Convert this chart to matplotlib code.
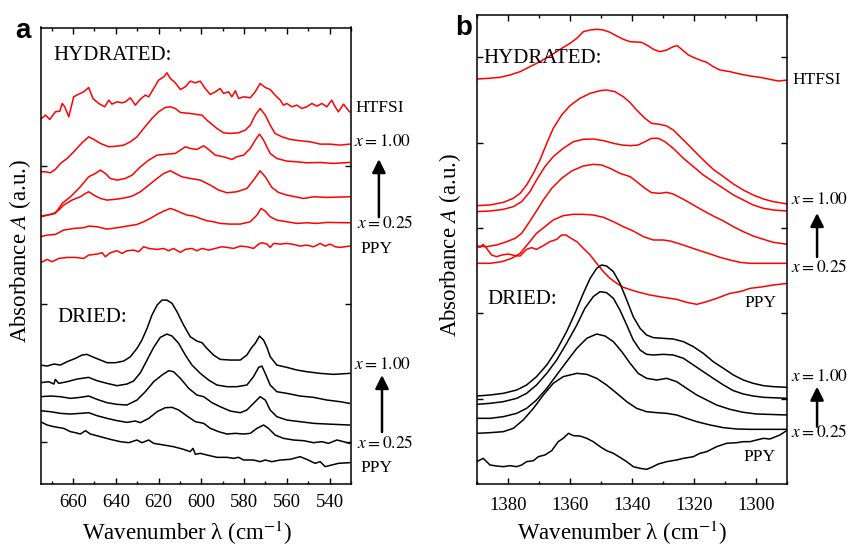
import numpy as np
import matplotlib
matplotlib.use("Agg")
import matplotlib.pyplot as plt
from matplotlib.ticker import MultipleLocator, FixedLocator

plt.rcParams['font.family'] = ['Liberation Serif', 'DejaVu Serif']
plt.rcParams['mathtext.fontset'] = 'stix'

RED = '#ff0000'
BLACK = '#000000'

# ----------------------------------------------------------------------
# Panel a: 675-530 cm-1, (wavenumber, absorbance a.u.)
# ----------------------------------------------------------------------
a_hyd_htfsi = [
    (675.3, 10.94), (672.9, 11.07), (670.9, 10.94), (668.3, 11.17), (666.2, 11.19),
    (665.1, 11.42), (663.9, 11.32), (662.0, 11.02), (659.7, 11.62), (657.4, 11.70),
    (655.0, 11.77), (652.7, 11.90), (650.7, 11.57), (648.0, 11.42), (645.2, 11.32),
    (643.3, 11.52), (641.8, 11.40), (639.4, 11.47), (637.1, 11.44), (635.5, 11.47),
    (633.2, 11.59), (630.9, 11.37), (628.5, 11.55), (626.2, 11.67), (624.6, 11.62),
    (622.3, 11.87), (620.0, 12.12), (617.6, 12.22), (616.1, 12.34), (614.5, 12.17),
    (612.2, 12.04), (609.8, 11.84), (607.5, 11.92), (605.2, 12.09), (602.8, 12.04),
    (600.5, 12.09), (598.2, 11.87), (595.8, 11.69), (593.5, 11.77), (591.2, 11.87),
    (589.6, 11.72), (587.3, 11.77), (585.7, 11.62), (584.1, 11.80), (582.6, 11.57),
    (580.2, 11.62), (577.1, 11.59), (574.8, 11.77), (572.5, 12.02), (570.1, 11.90),
    (567.8, 11.84), (565.5, 11.67), (563.1, 11.52), (561.6, 11.37), (560.0, 11.42),
    (557.7, 11.32), (555.3, 11.37), (553.0, 11.27), (550.7, 11.32), (548.3, 11.42),
    (546.0, 11.34), (543.6, 11.42), (541.3, 11.32), (539.0, 11.52), (537.4, 11.32),
    (535.9, 11.17), (533.5, 11.40), (530.7, 11.17),
]
a_hyd_100 = [
    (675.3, 9.37), (672.9, 9.37), (670.6, 9.34), (668.3, 9.44), (665.9, 9.62),
    (662.8, 9.77), (659.7, 9.97), (655.8, 10.24), (652.7, 10.42), (650.3, 10.34),
    (647.2, 10.22), (643.3, 10.12), (639.4, 10.14), (636.3, 10.17), (633.2, 10.27),
    (630.1, 10.42), (627.0, 10.67), (623.1, 10.97), (620.0, 11.17), (616.9, 11.30),
    (614.5, 11.32), (612.2, 11.27), (609.8, 11.15), (605.2, 11.12), (599.7, 11.07),
    (597.4, 10.92), (592.7, 10.67), (589.6, 10.54), (586.5, 10.52), (582.6, 10.54),
    (579.5, 10.62), (577.1, 10.77), (574.8, 11.07), (572.5, 11.27), (570.1, 11.07),
    (567.8, 10.77), (565.5, 10.52), (562.3, 10.42), (558.4, 10.34), (553.8, 10.30),
    (549.1, 10.27), (544.4, 10.20), (539.8, 10.20), (535.1, 10.17), (530.7, 10.20),
]
a_hyd_075 = [
    (675.3, 8.02), (668.3, 8.12), (665.1, 8.42), (661.2, 8.62), (656.6, 8.92),
    (652.7, 9.22), (649.6, 9.32), (647.2, 9.42), (644.9, 9.32), (642.6, 9.17),
    (639.4, 9.12), (635.5, 9.17), (632.4, 9.27), (628.5, 9.52), (624.6, 9.72),
    (620.7, 9.87), (616.1, 9.90), (612.2, 9.92), (609.8, 10.02), (607.5, 10.12),
    (605.2, 10.07), (602.1, 10.04), (598.9, 10.15), (596.6, 10.04), (593.5, 9.87),
    (589.6, 9.82), (585.7, 9.74), (583.4, 9.82), (580.2, 9.87), (577.1, 10.07),
    (574.8, 10.32), (572.8, 10.50), (570.9, 10.32), (567.8, 9.92), (564.7, 9.77),
    (560.0, 9.69), (555.3, 9.67), (550.7, 9.64), (544.4, 9.65), (538.2, 9.62),
    (530.7, 9.65),
]
a_hyd_050 = [
    (675.3, 8.04), (672.1, 8.07), (669.0, 8.12), (666.7, 8.22), (664.4, 8.37),
    (660.5, 8.52), (656.6, 8.62), (654.2, 8.72), (652.7, 8.77), (650.3, 8.67),
    (647.2, 8.57), (644.1, 8.52), (639.4, 8.55), (635.5, 8.59), (632.4, 8.64),
    (628.5, 8.77), (624.6, 8.97), (620.7, 9.17), (617.6, 9.32), (614.5, 9.40),
    (612.2, 9.32), (609.1, 9.22), (605.2, 9.17), (600.5, 9.12), (595.8, 8.97),
    (591.9, 8.82), (588.0, 8.74), (583.4, 8.77), (578.7, 8.87), (575.6, 9.12),
    (572.5, 9.40), (570.1, 9.22), (567.0, 8.90), (563.9, 8.75), (560.0, 8.67),
    (556.1, 8.62), (552.2, 8.57), (547.5, 8.62), (541.3, 8.60), (530.7, 8.62),
]
a_hyd_025 = [
    (675.3, 7.42), (672.1, 7.47), (668.3, 7.49), (664.4, 7.62), (659.7, 7.67),
    (655.0, 7.69), (652.7, 7.74), (648.8, 7.72), (644.1, 7.65), (639.4, 7.69),
    (634.8, 7.74), (630.1, 7.79), (627.0, 7.87), (623.9, 7.97), (620.7, 8.09),
    (617.6, 8.19), (614.5, 8.27), (612.2, 8.22), (609.8, 8.15), (606.7, 8.07),
    (603.6, 8.04), (600.5, 7.97), (597.4, 7.90), (594.3, 7.87), (591.2, 7.82),
    (586.5, 7.80), (581.8, 7.80), (577.1, 7.87), (574.0, 8.07), (572.1, 8.27),
    (570.1, 8.19), (567.8, 8.02), (564.7, 7.92), (560.0, 7.87), (555.3, 7.82),
    (550.7, 7.84), (546.0, 7.82), (541.3, 7.85), (530.7, 7.84),
]
a_hyd_ppy = [
    (675.3, 6.64), (672.1, 6.74), (669.8, 6.67), (666.7, 6.77), (662.8, 6.80),
    (658.9, 6.80), (655.0, 6.77), (652.7, 6.87), (648.8, 6.90), (646.4, 6.94),
    (644.9, 6.82), (642.6, 6.94), (639.4, 7.00), (637.1, 6.92), (634.8, 7.00),
    (631.7, 7.02), (629.3, 6.97), (627.0, 7.12), (624.6, 7.07), (620.7, 7.04),
    (617.6, 7.07), (615.3, 7.00), (613.0, 7.07), (609.8, 6.95), (607.5, 7.04),
    (604.4, 7.07), (602.1, 7.00), (599.7, 7.07), (596.6, 7.02), (593.5, 7.07),
    (590.4, 7.12), (588.0, 7.10), (584.9, 7.07), (581.8, 7.14), (578.7, 7.12),
    (575.6, 7.07), (573.2, 7.20), (571.7, 7.24), (569.3, 7.20), (567.8, 7.10),
    (566.2, 7.22), (563.1, 7.20), (560.0, 7.22), (556.9, 7.19), (553.8, 7.14),
    (550.7, 7.17), (547.5, 7.12), (544.4, 7.22), (542.1, 7.14), (539.8, 7.20),
    (537.4, 7.12), (535.1, 7.10), (530.7, 7.14),
]
a_dry_100 = [
    (675.3, 3.57), (672.1, 3.54), (669.0, 3.60), (665.9, 3.57), (662.8, 3.67),
    (658.9, 3.77), (655.8, 3.87), (653.5, 3.89), (650.3, 3.80), (647.2, 3.72),
    (644.1, 3.64), (640.2, 3.64), (636.3, 3.69), (633.2, 3.82), (630.1, 4.07),
    (627.8, 4.32), (625.4, 4.67), (623.1, 5.07), (620.7, 5.37), (618.4, 5.52),
    (616.1, 5.52), (613.7, 5.42), (611.4, 5.17), (608.3, 4.77), (605.2, 4.42),
    (602.1, 4.29), (599.7, 4.24), (597.4, 4.07), (594.3, 3.87), (591.2, 3.74),
    (586.5, 3.72), (581.8, 3.72), (578.7, 3.87), (576.4, 4.10), (574.8, 4.22),
    (572.8, 4.44), (570.9, 4.32), (569.3, 4.10), (567.8, 3.82), (564.7, 3.57),
    (560.0, 3.50), (555.3, 3.42), (550.7, 3.37), (544.4, 3.32), (538.2, 3.29),
    (530.7, 3.32),
]
a_dry_075 = [
    (675.3, 3.04), (671.4, 3.07), (669.0, 3.00), (668.3, 3.14), (666.7, 3.02),
    (662.8, 3.07), (658.1, 3.15), (652.7, 3.20), (648.8, 3.10), (644.1, 3.02),
    (639.4, 2.95), (634.8, 3.00), (631.7, 3.09), (628.5, 3.34), (625.4, 3.72),
    (622.3, 4.10), (619.2, 4.40), (616.1, 4.50), (613.7, 4.44), (610.6, 4.22),
    (607.5, 3.87), (604.4, 3.57), (600.5, 3.32), (596.6, 3.12), (592.7, 2.97),
    (588.0, 2.92), (583.4, 2.92), (578.7, 2.97), (575.6, 3.22), (573.2, 3.50),
    (571.7, 3.54), (570.1, 3.32), (567.8, 2.97), (564.7, 2.77), (560.0, 2.72),
    (553.8, 2.64), (547.5, 2.60), (541.3, 2.52), (535.1, 2.47), (530.7, 2.42),
]
a_dry_050 = [
    (675.3, 2.62), (670.6, 2.64), (665.9, 2.62), (661.2, 2.57), (656.6, 2.60),
    (652.7, 2.64), (648.8, 2.54), (644.1, 2.44), (639.4, 2.39), (634.8, 2.37),
    (630.1, 2.52), (626.2, 2.77), (622.3, 3.07), (618.4, 3.27), (615.3, 3.40),
    (613.0, 3.37), (609.8, 3.17), (605.9, 2.87), (602.1, 2.67), (598.9, 2.62),
    (595.0, 2.44), (591.2, 2.32), (586.5, 2.19), (581.8, 2.14), (578.7, 2.22),
    (575.6, 2.42), (572.5, 2.62), (570.1, 2.52), (567.8, 2.22), (564.7, 2.02),
    (560.0, 1.92), (553.8, 1.87), (547.5, 1.82), (541.3, 1.80), (530.7, 1.77),
]
a_dry_025 = [
    (675.3, 2.20), (670.6, 2.17), (665.9, 2.12), (661.2, 2.10), (656.6, 2.12),
    (652.7, 2.14), (648.8, 2.05), (644.1, 1.97), (639.4, 1.90), (634.8, 1.85),
    (630.9, 1.89), (628.5, 1.84), (624.6, 1.97), (620.7, 2.17), (616.9, 2.29),
    (613.7, 2.30), (610.6, 2.22), (606.7, 2.04), (602.8, 1.87), (598.9, 1.82),
    (595.8, 1.67), (591.9, 1.57), (588.0, 1.50), (584.1, 1.52), (580.2, 1.50),
    (577.1, 1.52), (574.0, 1.67), (570.9, 1.77), (568.6, 1.67), (565.5, 1.47),
    (561.6, 1.37), (556.9, 1.32), (552.2, 1.30), (547.5, 1.24), (543.6, 1.27),
    (540.5, 1.22), (536.6, 1.32), (533.5, 1.27), (530.7, 1.22),
]
a_dry_ppy = [
    (675.3, 1.87), (672.1, 1.77), (669.0, 1.72), (664.4, 1.67), (661.2, 1.57),
    (658.9, 1.54), (656.6, 1.50), (654.2, 1.60), (651.9, 1.50), (647.2, 1.42),
    (642.6, 1.34), (637.9, 1.27), (634.0, 1.24), (630.1, 1.32), (627.8, 1.24),
    (624.6, 1.32), (622.3, 1.22), (617.6, 1.17), (613.0, 1.12), (608.3, 1.04),
    (605.2, 0.97), (603.9, 1.07), (602.8, 0.89), (600.5, 0.92), (597.4, 0.87),
    (592.7, 0.80), (588.0, 0.80), (584.9, 0.77), (582.6, 0.80), (580.2, 0.72),
    (575.6, 0.72), (572.5, 0.67), (570.1, 0.72), (567.0, 0.67), (563.1, 0.72),
    (558.4, 0.74), (553.8, 0.82), (550.7, 0.74), (546.8, 0.62), (544.4, 0.67),
    (542.1, 0.52), (539.0, 0.57), (535.9, 0.62), (530.7, 0.64),
]

# ----------------------------------------------------------------------
# Panel b: 1390-1290 cm-1
# ----------------------------------------------------------------------
b_hyd_htfsi = [
    (1390.1, 12.15), (1386.3, 12.17), (1382.6, 12.20), (1379.4, 12.27), (1376.1, 12.37),
    (1372.9, 12.52), (1369.7, 12.67), (1366.5, 12.84), (1363.2, 13.04), (1360.0, 13.22),
    (1357.8, 13.37), (1355.7, 13.57), (1353.5, 13.62), (1351.4, 13.64), (1349.2, 13.62),
    (1347.1, 13.55), (1344.9, 13.44), (1342.8, 13.34), (1340.6, 13.27), (1336.9, 13.25),
    (1334.7, 13.14), (1333.1, 13.04), (1331.0, 12.97), (1328.8, 13.02), (1326.7, 13.12),
    (1325.4, 13.15), (1324.0, 13.04), (1321.8, 12.87), (1320.2, 12.80), (1318.1, 12.72),
    (1315.9, 12.65), (1313.8, 12.52), (1311.6, 12.42), (1308.4, 12.37), (1305.2, 12.30),
    (1301.9, 12.24), (1298.7, 12.20), (1295.5, 12.14), (1292.8, 12.09), (1289.8, 12.12),
]
b_hyd_100 = [
    (1390.1, 8.35), (1385.8, 8.37), (1381.5, 8.45), (1378.3, 8.57), (1376.1, 8.72),
    (1374.0, 8.97), (1371.8, 9.32), (1369.7, 9.72), (1367.5, 10.22), (1365.4, 10.67),
    (1362.7, 11.07), (1360.0, 11.35), (1356.8, 11.57), (1353.5, 11.72), (1350.3, 11.80),
    (1348.2, 11.82), (1345.5, 11.77), (1342.8, 11.62), (1340.6, 11.44), (1338.5, 11.22),
    (1335.8, 10.97), (1333.7, 10.82), (1331.0, 10.79), (1328.8, 10.74), (1326.7, 10.62),
    (1323.4, 10.32), (1320.2, 10.02), (1317.0, 9.72), (1313.8, 9.44), (1310.5, 9.22),
    (1307.3, 9.00), (1304.1, 8.82), (1300.9, 8.67), (1297.6, 8.55), (1294.4, 8.47),
    (1289.8, 8.40),
]
b_hyd_075 = [
    (1390.1, 8.17), (1385.8, 8.19), (1381.5, 8.24), (1378.3, 8.32), (1375.6, 8.47),
    (1372.9, 8.77), (1370.8, 9.12), (1368.1, 9.52), (1365.4, 9.82), (1362.2, 10.07),
    (1358.9, 10.27), (1355.7, 10.34), (1352.5, 10.35), (1349.2, 10.30), (1346.0, 10.22),
    (1343.3, 10.17), (1340.6, 10.15), (1338.0, 10.17), (1335.8, 10.27), (1333.7, 10.37),
    (1331.5, 10.37), (1329.4, 10.27), (1326.7, 10.07), (1323.4, 9.77), (1320.2, 9.52),
    (1317.0, 9.27), (1313.8, 9.07), (1310.5, 8.87), (1307.3, 8.67), (1304.1, 8.52),
    (1300.9, 8.37), (1297.6, 8.27), (1294.4, 8.22), (1289.8, 8.19),
]
b_hyd_050 = [
    (1390.1, 7.14), (1386.9, 7.12), (1383.7, 7.17), (1380.4, 7.27), (1377.7, 7.37),
    (1375.6, 7.52), (1373.4, 7.82), (1371.3, 8.12), (1368.6, 8.52), (1365.9, 8.87),
    (1362.7, 9.17), (1359.5, 9.39), (1355.7, 9.54), (1352.5, 9.59), (1349.8, 9.57),
    (1347.1, 9.47), (1343.9, 9.32), (1340.6, 9.22), (1338.5, 9.07), (1335.8, 8.87),
    (1333.7, 8.74), (1331.0, 8.72), (1328.8, 8.75), (1326.7, 8.70), (1323.4, 8.54),
    (1320.2, 8.37), (1317.0, 8.20), (1313.8, 8.04), (1310.5, 7.89), (1307.3, 7.72),
    (1304.1, 7.57), (1300.9, 7.44), (1297.6, 7.34), (1294.4, 7.25), (1289.8, 7.19),
]
b_hyd_025 = [
    (1390.1, 6.62), (1385.8, 6.62), (1382.0, 6.67), (1378.8, 6.77), (1376.1, 6.92),
    (1373.4, 7.22), (1370.8, 7.52), (1368.1, 7.72), (1365.4, 7.92), (1362.2, 8.05),
    (1358.9, 8.09), (1355.7, 8.09), (1352.5, 8.07), (1349.2, 8.00), (1346.0, 7.87),
    (1342.8, 7.72), (1339.6, 7.59), (1336.3, 7.42), (1333.1, 7.32), (1329.9, 7.32),
    (1327.7, 7.29), (1324.5, 7.20), (1321.3, 7.10), (1318.1, 7.00), (1314.8, 6.90),
    (1311.6, 6.80), (1308.4, 6.72), (1305.2, 6.65), (1301.9, 6.62), (1297.6, 6.62),
    (1289.8, 6.62),
]
b_hyd_ppy = [
    (1390.1, 7.12), (1389.0, 7.10), (1388.0, 7.19), (1386.9, 7.07), (1385.3, 6.87),
    (1383.7, 6.82), (1382.0, 6.87), (1379.9, 6.90), (1377.7, 6.85), (1376.1, 6.84),
    (1374.0, 7.04), (1372.4, 7.09), (1370.8, 7.04), (1368.6, 7.15), (1366.5, 7.27),
    (1364.3, 7.34), (1362.7, 7.47), (1361.3, 7.47), (1360.0, 7.39), (1357.8, 7.27),
    (1355.7, 7.07), (1353.5, 6.87), (1351.4, 6.62), (1349.2, 6.37), (1347.1, 6.17),
    (1344.9, 6.02), (1342.8, 5.90), (1338.5, 5.77), (1334.2, 5.67), (1329.9, 5.60),
    (1325.6, 5.54), (1322.4, 5.45), (1319.1, 5.39), (1315.9, 5.47), (1312.7, 5.57),
    (1308.4, 5.72), (1305.2, 5.77), (1301.9, 5.87), (1297.6, 5.92), (1294.4, 5.97),
    (1289.8, 6.02),
]
b_dry_100 = [
    (1390.1, 2.64), (1385.8, 2.67), (1381.5, 2.72), (1377.2, 2.82), (1374.0, 2.97),
    (1370.8, 3.22), (1367.5, 3.57), (1364.3, 4.02), (1361.1, 4.57), (1358.4, 5.12),
    (1355.7, 5.72), (1353.5, 6.17), (1351.4, 6.47), (1349.8, 6.57), (1348.2, 6.54),
    (1346.0, 6.37), (1343.9, 6.02), (1341.7, 5.52), (1339.6, 5.02), (1337.4, 4.67),
    (1335.3, 4.47), (1333.1, 4.39), (1329.9, 4.37), (1326.7, 4.35), (1323.4, 4.27),
    (1320.2, 4.12), (1317.0, 3.92), (1313.8, 3.67), (1310.5, 3.47), (1307.3, 3.27),
    (1304.1, 3.12), (1300.9, 3.02), (1297.6, 2.95), (1294.4, 2.92), (1289.8, 2.90),
]
b_dry_075 = [
    (1390.1, 2.39), (1385.8, 2.42), (1381.5, 2.47), (1377.2, 2.57), (1374.0, 2.72),
    (1370.8, 2.97), (1367.5, 3.32), (1364.3, 3.72), (1361.1, 4.22), (1357.8, 4.77),
    (1355.2, 5.27), (1352.5, 5.62), (1350.3, 5.77), (1348.2, 5.74), (1346.0, 5.57),
    (1343.9, 5.22), (1341.7, 4.77), (1339.6, 4.32), (1337.4, 4.02), (1335.3, 3.89),
    (1333.1, 3.87), (1329.9, 3.89), (1326.7, 3.87), (1323.4, 3.77), (1320.2, 3.57),
    (1317.0, 3.37), (1313.8, 3.17), (1310.5, 2.97), (1307.3, 2.80), (1304.1, 2.70),
    (1300.9, 2.64), (1297.6, 2.60), (1289.8, 2.57),
]
b_dry_050 = [
    (1390.1, 1.97), (1385.8, 1.97), (1381.5, 2.02), (1377.2, 2.12), (1374.0, 2.27),
    (1370.8, 2.52), (1367.5, 2.87), (1364.3, 3.27), (1361.1, 3.67), (1357.8, 4.07),
    (1354.6, 4.37), (1351.4, 4.50), (1348.7, 4.44), (1346.0, 4.27), (1343.3, 3.97),
    (1340.6, 3.62), (1338.0, 3.32), (1335.3, 3.17), (1332.0, 3.12), (1328.8, 3.17),
    (1325.6, 3.07), (1322.4, 2.87), (1319.1, 2.67), (1315.9, 2.52), (1312.7, 2.37),
    (1308.4, 2.24), (1304.1, 2.15), (1299.8, 2.10), (1289.8, 2.07),
]
b_dry_025 = [
    (1390.1, 1.52), (1385.8, 1.54), (1381.5, 1.57), (1378.3, 1.67), (1375.1, 1.92),
    (1371.8, 2.27), (1368.6, 2.67), (1365.4, 3.02), (1362.2, 3.22), (1357.8, 3.32),
    (1354.6, 3.29), (1351.4, 3.17), (1348.2, 2.97), (1344.9, 2.72), (1341.7, 2.47),
    (1338.5, 2.27), (1335.3, 2.17), (1332.0, 2.14), (1328.8, 2.12), (1325.6, 2.07),
    (1322.4, 1.97), (1319.1, 1.87), (1314.8, 1.77), (1310.5, 1.69), (1306.2, 1.65),
    (1301.9, 1.64), (1289.8, 1.64),
]
b_dry_ppy = [
    (1390.1, 0.67), (1388.0, 0.77), (1385.8, 0.57), (1383.7, 0.54), (1381.5, 0.52),
    (1379.4, 0.55), (1377.2, 0.52), (1375.6, 0.57), (1374.0, 0.67), (1371.8, 0.70),
    (1370.2, 0.82), (1368.1, 0.87), (1365.9, 1.00), (1363.8, 1.27), (1362.2, 1.37),
    (1360.5, 1.52), (1358.9, 1.45), (1356.8, 1.44), (1354.6, 1.37), (1352.5, 1.27),
    (1350.3, 1.12), (1348.2, 1.00), (1346.0, 0.92), (1343.9, 0.80), (1341.7, 0.67),
    (1339.6, 0.52), (1337.4, 0.47), (1335.3, 0.44), (1333.7, 0.50), (1331.5, 0.60),
    (1328.8, 0.67), (1325.6, 0.72), (1323.4, 0.77), (1320.2, 0.82), (1318.1, 0.92),
    (1315.9, 0.97), (1312.7, 1.12), (1309.5, 1.22), (1306.2, 1.24), (1304.1, 1.27),
    (1301.9, 1.27), (1299.8, 1.32), (1297.6, 1.37), (1295.5, 1.35), (1292.3, 1.47),
    (1289.8, 1.62),
]

hydrated_a = [a_hyd_htfsi, a_hyd_100, a_hyd_075, a_hyd_050, a_hyd_025, a_hyd_ppy]
dried_a = [a_dry_100, a_dry_075, a_dry_050, a_dry_025, a_dry_ppy]
hydrated_b = [b_hyd_htfsi, b_hyd_100, b_hyd_075, b_hyd_050, b_hyd_025, b_hyd_ppy]
dried_b = [b_dry_100, b_dry_075, b_dry_050, b_dry_025, b_dry_ppy]


def draw(ax, curves, color):
    for c in curves:
        wn, A = np.array(c).T
        ax.plot(wn, A, color=color, lw=1.1, solid_joinstyle='round')


def style(ax, xlim, ylim, yticks, pad):
    ax.set_xlim(*xlim)
    ax.set_ylim(*ylim)
    ax.xaxis.set_major_locator(MultipleLocator(20))
    ax.xaxis.set_minor_locator(MultipleLocator(10))
    ax.yaxis.set_major_locator(FixedLocator(yticks))
    ax.set_yticklabels([])
    ax.tick_params(axis='x', which='both', direction='in', top=True, bottom=True,
                   labelsize=13.5, pad=pad)
    ax.tick_params(axis='x', which='major', length=4, width=1)
    ax.tick_params(axis='x', which='minor', length=2.2, width=1)
    ax.tick_params(axis='y', which='major', direction='in', left=True, right=True,
                   length=4.5, width=1)
    for s in ax.spines.values():
        s.set_linewidth(1.1)
    ax.set_xlabel(r"Wavenumber λ (cm$^{-1}$)", fontsize=16.5)
    ax.set_ylabel(r"Absorbance $A$ (a.u.)", fontsize=16.5)


def arrow(ax, x, y0, y1):
    ax.annotate('', xy=(x, y1), xytext=(x, y0),
                xycoords=ax.get_yaxis_transform(), textcoords=ax.get_yaxis_transform(),
                arrowprops=dict(arrowstyle='-|>', color='black', lw=1.8,
                                mutation_scale=20, shrinkA=0, shrinkB=0),
                annotation_clip=False)


fig = plt.figure(figsize=(8.53, 5.46), dpi=100)
ax_a = fig.add_axes([41 / 853, 62 / 546, 310 / 853, 456.5 / 546])
ax_b = fig.add_axes([477 / 853, 62 / 546, 310 / 853, 469 / 546])

# ---- panel a
draw(ax_a, hydrated_a, RED)
draw(ax_a, dried_a, BLACK)
style(ax_a, (675, 530), (0, 13.7), [1.27, 5.41, 9.54], 7.5)
ax_a.xaxis.set_label_coords(0.471, -0.077)
ax_a.yaxis.set_label_coords(-0.027, 0.51)

ta = ax_a.get_yaxis_transform()
lab = 12.5
ax_a.text(0.039, 12.87, "HYDRATED:", transform=ta, fontsize=15, va='center')
ax_a.text(0.052, 5.01, "DRIED:", transform=ta, fontsize=15, va='center')
ax_a.text(1.013, 11.28, "HTFSI", transform=ta, fontsize=lab, va='center')
ax_a.text(1.010, 10.26, r"$x = 1.00$", transform=ta, fontsize=lab, va='center')
ax_a.text(1.018, 7.83, r"$x = 0.25$", transform=ta, fontsize=lab, va='center')
ax_a.text(1.030, 7.05, "PPY", transform=ta, fontsize=lab, va='center')
arrow(ax_a, 1.09, 8.01, 9.75)
ax_a.text(1.010, 3.57, r"$x = 1.00$", transform=ta, fontsize=lab, va='center')
ax_a.text(1.018, 1.23, r"$x = 0.25$", transform=ta, fontsize=lab, va='center')
ax_a.text(1.030, 0.48, "PPY", transform=ta, fontsize=lab, va='center')
arrow(ax_a, 1.10, 1.56, 3.27)

# ---- panel b
draw(ax_b, hydrated_b, RED)
draw(ax_b, dried_b, BLACK)
style(ax_b, (1390, 1290), (0, 14.07), [2.56, 5.12, 7.68, 10.24, 12.80], 9.5)
ax_b.xaxis.set_label_coords(0.468, -0.075)
ax_b.yaxis.set_label_coords(-0.045, 0.51)

tb = ax_b.get_yaxis_transform()
ax_b.text(0.019, 12.77, "HYDRATED:", transform=tb, fontsize=15, va='center')
ax_b.text(0.032, 5.52, "DRIED:", transform=tb, fontsize=15, va='center')
ax_b.text(1.016, 12.12, "HTFSI", transform=tb, fontsize=lab, va='center')
ax_b.text(1.013, 8.52, r"$x = 1.00$", transform=tb, fontsize=lab, va='center')
ax_b.text(1.013, 6.51, r"$x = 0.25$", transform=tb, fontsize=lab, va='center')
ax_b.text(0.916, 5.42, "PPY", transform=tb, fontsize=lab, va='center', ha='center')
arrow(ax_b, 1.097, 6.81, 8.13)
ax_b.text(1.013, 3.22, r"$x = 1.00$", transform=tb, fontsize=lab, va='center')
ax_b.text(1.013, 1.54, r"$x = 0.25$", transform=tb, fontsize=lab, va='center')
ax_b.text(0.910, 0.82, "PPY", transform=tb, fontsize=lab, va='center', ha='center')
arrow(ax_b, 1.097, 1.72, 2.92)

# panel letters
fig.text(15 / 853, 1 - 38 / 546, "a", fontsize=20, fontweight='bold',
         family=['Liberation Sans', 'DejaVu Sans'], va='baseline')
fig.text(455 / 853, 1 - 35 / 546, "b", fontsize=20, fontweight='bold',
         family=['Liberation Sans', 'DejaVu Sans'], va='baseline')

fig.savefig("out.png", dpi=100)
